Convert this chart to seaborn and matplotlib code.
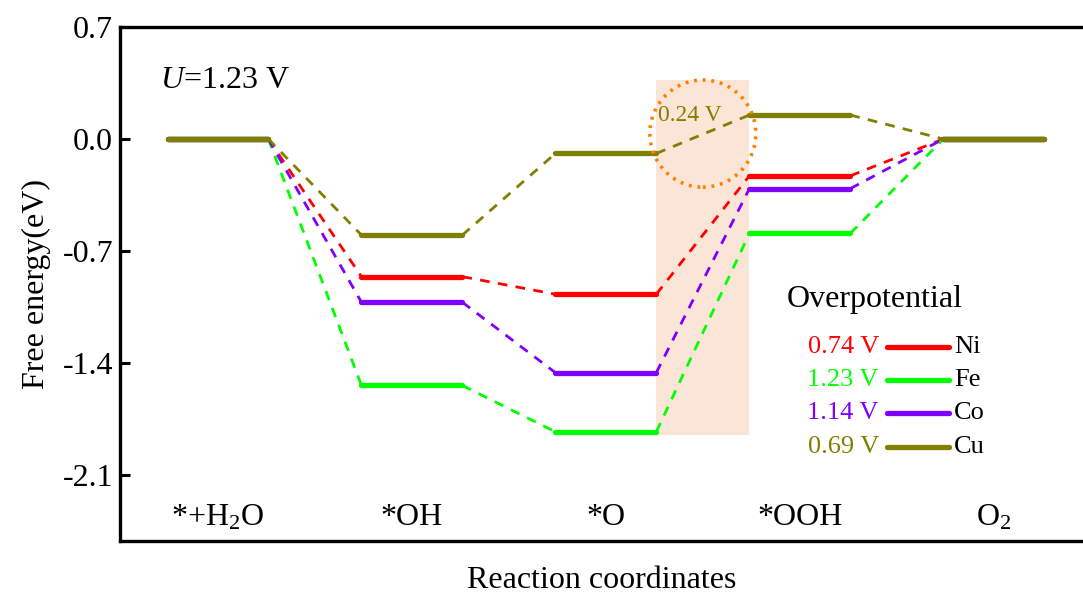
import matplotlib
matplotlib.use("Agg")
import matplotlib.pyplot as plt
import seaborn as sns
import pandas as pd
from matplotlib.patches import Ellipse, Rectangle
from matplotlib.lines import Line2D

# data: free energy of each intermediate (eV) at U = 1.23 V
steps = ["*+H$_2$O", "*OH", "*O", "*OOH", "O$_2$"]
metals = ["Ni", "Fe", "Co", "Cu"]
energy_ni = [0.0, -0.86, -0.97, -0.23, 0.0]
energy_fe = [0.0, -1.54, -1.83, -0.59, 0.0]
energy_co = [0.0, -1.02, -1.46, -0.31, 0.0]
energy_cu = [0.0, -0.60, -0.09, 0.15, 0.0]
overpotentials = ["0.74 V", "1.23 V", "1.14 V", "0.69 V"]
colors = ["#FF0000", "#00FF00", "#8000FF", "#808000"]
y_ticks = [0.7, 0.0, -0.7, -1.4, -2.1]

energies = dict(zip(metals, [energy_ni, energy_fe, energy_co, energy_cu]))
palette = dict(zip(metals, colors))
half = 0.26  # half width of each level

sns.set_theme(style="ticks")
plt.rcParams["font.family"] = ["Liberation Serif", "DejaVu Serif"]
plt.rcParams["mathtext.fontset"] = "custom"
plt.rcParams["mathtext.rm"] = "Liberation Serif"
plt.rcParams["mathtext.it"] = "Liberation Serif:italic"
plt.rcParams["axes.unicode_minus"] = False
for k in ["text.color", "axes.labelcolor", "ytick.color", "xtick.color", "axes.edgecolor"]:
    plt.rcParams[k] = "black"

# long-form tables for the levels and the dashed connectors
lev_rows, con_rows = [], []
for m in metals:
    e = energies[m]
    for i, v in enumerate(e):
        lev_rows += [(m, f"{m}{i}", i - half, v), (m, f"{m}{i}", i + half, v)]
    for i in range(len(e) - 1):
        con_rows += [(m, f"{m}c{i}", i + half, e[i]), (m, f"{m}c{i}", i + 1 - half, e[i + 1])]
levels = pd.DataFrame(lev_rows, columns=["metal", "seg", "x", "G"])
conns = pd.DataFrame(con_rows, columns=["metal", "seg", "x", "G"])

fig = plt.figure(figsize=(10.83, 5.99), dpi=100)
ax = fig.add_axes([0.1108, 0.0968, 0.8892, 0.8581])

# highlighted rate-limiting step for Cu
ax.add_patch(Rectangle((2 + half, -1.85), 1 - 2 * half, 2.22,
                       facecolor="#FBE5D6", edgecolor="none", zorder=0))

sns.lineplot(data=conns, x="x", y="G", hue="metal", units="seg", estimator=None,
             sort=False, palette=palette, hue_order=metals, lw=2.0,
             linestyle=(0, (3.5, 3)), legend=False, ax=ax)
sns.lineplot(data=levels, x="x", y="G", hue="metal", units="seg", estimator=None,
             sort=False, palette=palette, hue_order=metals, lw=3.8,
             solid_capstyle="round", legend=False, ax=ax)

ax.add_patch(Ellipse((2.5, 0.034), 0.546, 0.67, fill=False, edgecolor="#FF8000",
                     lw=2.6, linestyle=(0, (0.8, 1.6)), zorder=5))
ax.text(2.27, 0.15, "0.24 V", color="#808000", fontsize=17, va="center", ha="left")

ax.set_xlim(-0.505, 4.46)
ax.set_ylim(-2.512, 0.7)
ax.set_yticks(y_ticks)
ax.set_yticklabels([f"{t:.1f}" for t in y_ticks], fontsize=23)
ax.set_xticks([])
ax.set_xlabel("Reaction coordinates", fontsize=23, labelpad=18)
ax.set_ylabel("Free energy(eV)", fontsize=23, labelpad=8)
ax.tick_params(axis="y", direction="in", length=7, width=2.2, pad=5)
for s in ["top", "left", "bottom"]:
    ax.spines[s].set_linewidth(2.4)
    ax.spines[s].set_color("black")
ax.spines["right"].set_visible(False)

for i, lab in enumerate(steps):
    ax.text(i, 0.045, lab, transform=ax.get_xaxis_transform(), ha="center",
            va="center", fontsize=23)

ax.text(0.042, 0.895, "$U$=1.23 V", transform=ax.transAxes, fontsize=23,
        ha="left", va="center")

# manual legend
ax.text(0.692, 0.469, "Overpotential", transform=ax.transAxes, fontsize=23,
        ha="left", va="center")
row_y = [0.377, 0.313, 0.249, 0.183]
for m, ov, c, y in zip(metals, overpotentials, colors, row_y):
    ax.add_line(Line2D([0.796, 0.861], [y, y], transform=ax.transAxes, color=c,
                       lw=3.8, solid_capstyle="round"))
    ax.text(0.788, y, ov, transform=ax.transAxes, color=c, fontsize=19,
            ha="right", va="center")
    ax.text(0.866, y, m, transform=ax.transAxes, color="black", fontsize=19,
            ha="left", va="center")

fig.savefig("out.png", dpi=100)
